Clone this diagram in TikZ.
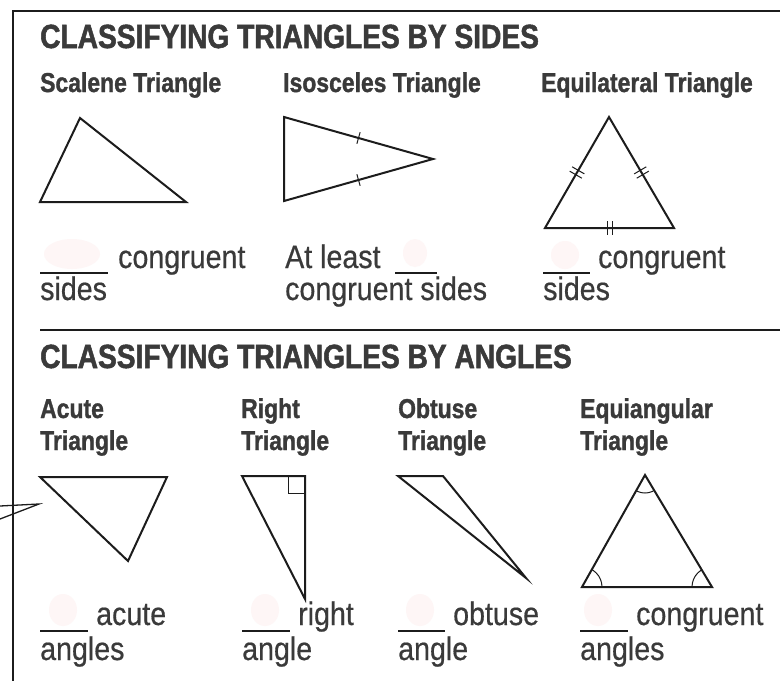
\documentclass[tikz,border=0pt]{standalone}
\usepackage{fontspec}
\setmainfont{Liberation Sans}
\newfontfamily\headfont[FakeStretch=0.84,BoldFeatures={FakeBold=1.5}]{Liberation Sans}
\newfontfamily\subfont[FakeStretch=0.84,BoldFeatures={FakeBold=1.2}]{Liberation Sans}
\newfontfamily\bodyfont[FakeStretch=0.88,FakeBold=0.5]{Liberation Sans}
\usetikzlibrary{calc}

\definecolor{inkgray}{HTML}{3A3A3A}
\definecolor{lineblack}{HTML}{1C1C1C}
\definecolor{erased}{HTML}{FEF6F6}

\tikzset{
  heading/.style={anchor=base west,inner sep=0pt,text=inkgray,
    font=\headfont\bfseries\fontsize{33.5}{33.5}\selectfont},
  subhead/.style={anchor=base west,inner sep=0pt,text=inkgray,
    font=\subfont\bfseries\fontsize{27.3}{27.3}\selectfont},
  body/.style={anchor=base west,inner sep=0pt,text=inkgray,
    font=\bodyfont\fontsize{32.5}{32.5}\selectfont},
  frame/.style={line width=2pt,draw=lineblack},
  tri/.style={line width=2pt,draw=lineblack,line join=miter},
  blank/.style={line width=1.5pt,draw=lineblack},
  ticks/.style={line width=1pt,draw=lineblack},
  smudge/.style={fill=erased,draw=none},
}

% tick marks on an edge
\newcommand{\onetick}[2]{%
  \coordinate (tm) at ($(#1)!0.5!(#2)$);
  \draw[ticks] ($(tm)!6pt!90:(#2)$) -- ($(tm)!6pt!-90:(#2)$);}
\newcommand{\twoticks}[2]{%
  \coordinate (tm) at ($(#1)!0.5!(#2)$);
  \coordinate (ta) at ($(tm)!2.5pt!(#2)$);
  \coordinate (tb) at ($(tm)!-2.5pt!(#2)$);
  \draw[ticks] ($(ta)!7pt!90:(#2)$) -- ($(ta)!7pt!-90:(#2)$);
  \draw[ticks] ($(tb)!7pt!90:(#2)$) -- ($(tb)!7pt!-90:(#2)$);}

\begin{document}
\begin{tikzpicture}[x=1pt,y=-1pt]
\useasboundingbox[fill=white] (0,0) rectangle (780,681);

% frame
\draw[frame] (780,11) -- (13,11) -- (13,681);
\draw[frame] (40,330) -- (780,330);
\draw[line width=1.3pt,draw=lineblack] (0,506) -- (39,504) -- (0,519);

% erased answers
\fill[smudge] (72,254) ellipse[x radius=28,y radius=15];
\fill[smudge] (415,253) ellipse[x radius=12,y radius=14];
\fill[smudge] (565,255) ellipse[x radius=14,y radius=14];
\foreach \cx in {63,265,420,598}
  \fill[smudge] (\cx,610) ellipse[x radius=14,y radius=16];

% ---- by sides ----
\node[heading] (sideshead) at (40,48) {CLASSIFYING TRIANGLES BY SIDES};
\node[subhead] (scalhead) at (40,92) {Scalene Triangle};
\node[subhead] (isohead) at (283,92) {Isosceles Triangle};
\node[subhead] (equihead) at (541,92) {Equilateral Triangle};

\draw[tri] (80,118) -- (40,202) -- (186,202) -- cycle;

\coordinate (i1) at (284,117);
\coordinate (i2) at (433,159);
\coordinate (i3) at (284,201);
\draw[tri] (i1) -- (i2) -- (i3) -- cycle;
\onetick{i1}{i2}
\onetick{i3}{i2}

\coordinate (e1) at (609,117);
\coordinate (e2) at (545,228);
\coordinate (e3) at (674,228);
\draw[tri] (e1) -- (e2) -- (e3) -- cycle;
\twoticks{e2}{e1}
\twoticks{e3}{e1}
\twoticks{e2}{e3}

\draw[blank] (40,273) -- (108,273);
\node[body] (scal1) at (118,268) {congruent};
\node[body] (scal2) at (40,300) {sides};
\node[body] (iso1) at (285,268) {At least};
\draw[blank] (395,273) -- (437,273);
\node[body] (iso2) at (285,300) {congruent sides};
\draw[blank] (543,273) -- (590,273);
\node[body] (equi1) at (598,268) {congruent};
\node[body] (equi2) at (543,300) {sides};

% ---- by angles ----
\node[heading] (angshead) at (40,368) {CLASSIFYING TRIANGLES BY ANGLES};
\node[subhead] (acuhead) at (40,418) {Acute};
\node[subhead] (acuhead2) at (40,450) {Triangle};
\node[subhead] (rthead) at (241,418) {Right};
\node[subhead] (rthead2) at (241,450) {Triangle};
\node[subhead] (obhead) at (398,418) {Obtuse};
\node[subhead] (obhead2) at (398,450) {Triangle};
\node[subhead] (eqahead) at (580,418) {Equiangular};
\node[subhead] (eqahead2) at (580,450) {Triangle};

\draw[tri] (40,477) -- (167,477) -- (128,561) -- cycle;

\draw[tri] (242,476) -- (305,476) -- (305,599) -- cycle;
\draw[line width=1pt,draw=lineblack] (288,476) |- (305,493);

\draw[tri] (398,476) -- (443,476) -- (526,578) -- cycle;

\coordinate (q1) at (645,475);
\coordinate (q2) at (582,587);
\coordinate (q3) at (712,587);
\draw[tri] (q1) -- (q2) -- (q3) -- cycle;
\begin{scope}
  \clip (q1) -- (q2) -- (q3) -- cycle;
  \draw[ticks] (q1) circle[radius=18pt];
  \draw[ticks] (q2) circle[radius=20pt];
  \draw[ticks] (q3) circle[radius=20pt];
\end{scope}

\draw[blank] (40,631) -- (88,631);
\node[body] (acu1) at (96,625) {acute};
\node[body] (acu2) at (40,660) {angles};
\draw[blank] (242,631) -- (290,631);
\node[body] (rt1) at (298,625) {right};
\node[body] (rt2) at (242,660) {angle};
\draw[blank] (398,631) -- (445,631);
\node[body] (ob1) at (453,625) {obtuse};
\node[body] (ob2) at (398,660) {angle};
\draw[blank] (580,631) -- (628,631);
\node[body] (eqa1) at (636,625) {congruent};
\node[body] (eqa2) at (580,660) {angles};
\end{tikzpicture}
\end{document}
